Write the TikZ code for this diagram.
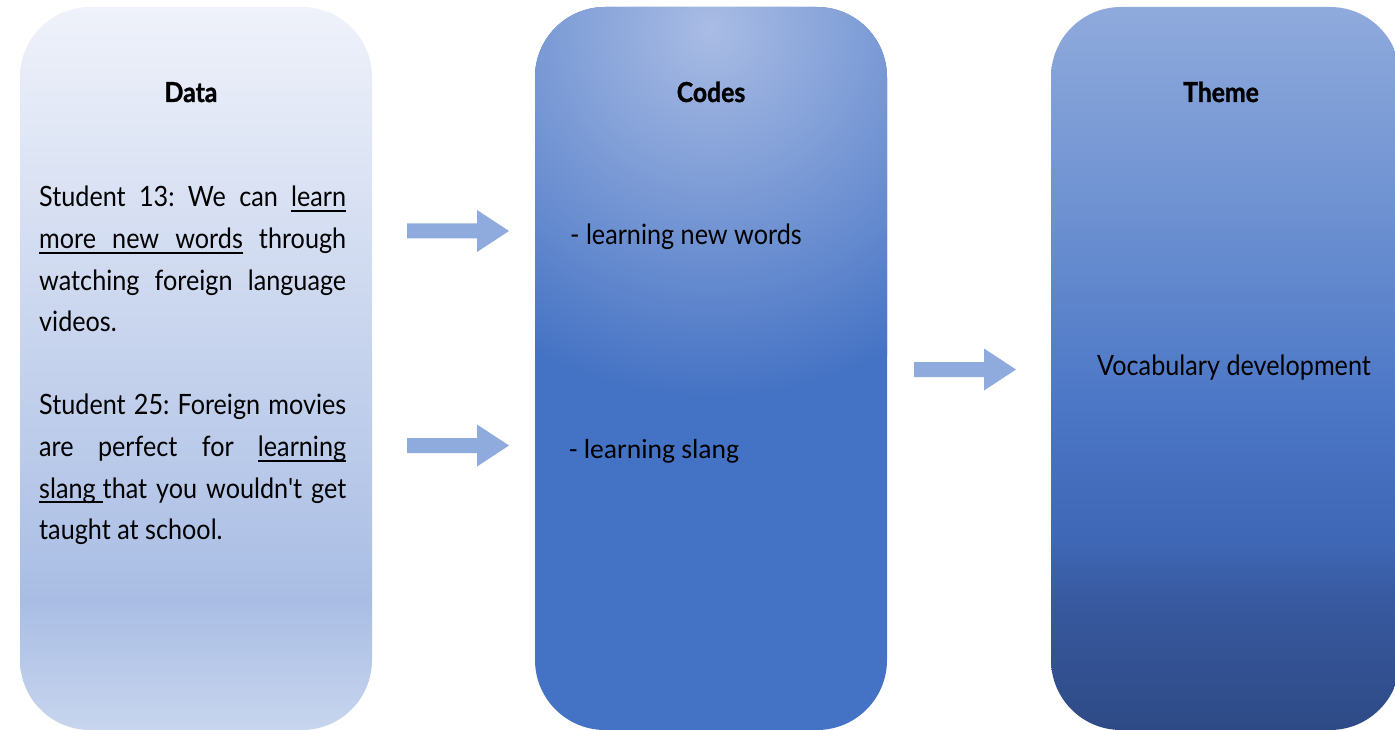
\documentclass[tikz,border=0pt]{standalone}
\usepackage{fontspec}
\setmainfont{Lato}
\newfontfamily\futfont[FakeStretch=0.9]{Lato}
\newfontfamily\calfont{Carlito}
\newcommand\myul[1]{\setbox0\hbox{#1}\rlap{\rule[-5pt]{\wd0}{1.8pt}}\box0\relax}
\newcommand\ulsp{\leaders\hrule height -3.2pt depth 5pt\hskip\fontdimen2\font plus\fontdimen3\font minus\fontdimen4\font\relax}
\definecolor{arrowc}{HTML}{8FAADC}
\definecolor{midbase}{HTML}{4472C4}
\definecolor{midlight}{HTML}{A9BCE4}
\definecolor{Ltop}{HTML}{EFF2FA}
\definecolor{Lmid}{HTML}{A9BDE4}
\definecolor{Lbot}{HTML}{C7D5EE}
\definecolor{Rtop}{HTML}{8FAADC}
\definecolor{Ra}{HTML}{7093D2}
\definecolor{Rb}{HTML}{4D78C7}
\definecolor{Rc}{HTML}{3E67B5}
\definecolor{Rd}{HTML}{38599F}
\definecolor{Rbot}{HTML}{2E4A86}
\pgfdeclareverticalshading{leftsh}{100bp}{color(0bp)=(Lbot); color(25bp)=(Lbot); color(34bp)=(Lmid); color(75bp)=(Ltop); color(100bp)=(Ltop)}
\pgfdeclareverticalshading{rightsh}{100bp}{color(0bp)=(Rbot); color(25bp)=(Rbot); color(34bp)=(Rd); color(38bp)=(Rc); color(48bp)=(Rb); color(62bp)=(Ra); color(75bp)=(Rtop); color(100bp)=(Rtop)}
\begin{document}
\begin{tikzpicture}[x=1pt,y=-1pt,
  colbox/.style={rounded corners=70pt},
  hdr/.style={font=\futfont\bfseries\addfontfeature{FakeBold=1.2}\fontsize{27.5}{30}\selectfont, anchor=base, inner sep=0pt},
  bodytxt/.style={font=\futfont\frenchspacing\fontsize{28}{32}\selectfont, anchor=base west, inner sep=0pt},
  caltxt/.style={font=\calfont\fontsize{27.6}{32}\selectfont, anchor=base west, inner sep=0pt},
  barrow/.pic={\fill[arrowc] (0,-7.5) -- (70,-7.5) -- (70,-21) -- (102,0) -- (70,21) -- (70,7.5) -- (0,7.5) -- cycle;}
]
\useasboundingbox (0,0) rectangle (1395,730);
\clip (0,0) rectangle (1395,730);
% boxes
\path[colbox, shading=leftsh] (20,7) rectangle (372,730);
\fill[colbox, midbase] (535,7) rectangle (887,730);
\begin{scope}
  \clip[colbox] (535,7) rectangle (887,730);
  \shade[inner color=midlight, outer color=midbase] (711,30) circle[radius=370];
\end{scope}
\path[colbox, shading=rightsh] (1051,7) rectangle (1400,730);
% headers
\node[hdr] (ndata) at (191,102) {Data};
\node[hdr] (ncodes) at (711,102) {Codes};
\node[hdr] (ntheme) at (1221,102) {Theme};
% data text
\node[bodytxt] (nstudent) at (39,207) {\parbox[t]{307pt}{\setlength{\baselineskip}{41.6pt}\setlength{\parskip}{0pt}\setlength{\parindent}{0pt}%
\makebox[307pt][s]{Student 13: We can \myul{learn}}\par
\makebox[307pt][s]{\myul{more}\ulsp\myul{new}\ulsp\myul{words} through}\par
\makebox[307pt][s]{watching foreign language}\par
videos.\par
\mbox{}\par
\makebox[307pt][s]{Student 25: Foreign movies}\par
\makebox[307pt][s]{are perfect for \myul{learning}}\par
\makebox[307pt][s]{\myul{slang}\rule[-5pt]{7pt}{1.8pt}that you wouldn't get}\par
taught at school.}};
% codes
\node[bodytxt] (ncode1) at (570,244) {- learning new words};
\node[caltxt] (ncode2) at (569,458) {- learning slang};
% theme
\node[bodytxt] (nvocab) at (1097,375) {Vocabulary development};
% arrows
\pic at (407,231) {barrow};
\pic at (407,445.5) {barrow};
\pic at (914,369.5) {barrow};
\end{tikzpicture}
\end{document}
